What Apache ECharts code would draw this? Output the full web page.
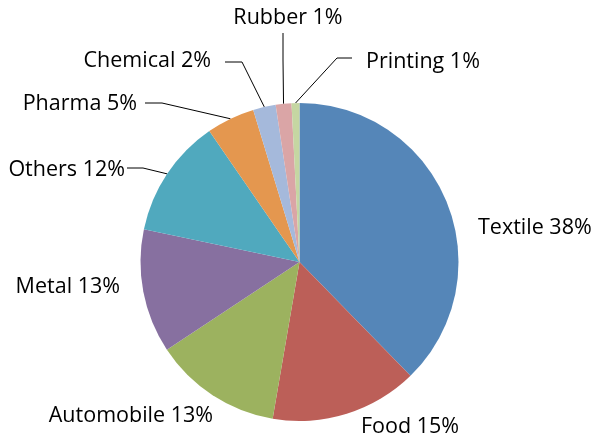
<!DOCTYPE html>
<html><head><meta charset="utf-8">
<script src="https://cdn.jsdelivr.net/npm/echarts@6/dist/echarts.min.js"></script>
<style>html,body{margin:0;padding:0;background:#fff}#c{width:593px;height:438px}</style>
</head><body><div id="c"></div>
<script>
const categories = ['Textile','Food','Automobile','Metal','Others','Pharma','Chemical','Rubber','Printing'];
const values = [37.7,15.0,13.0,12.6,12.1,4.9,2.3,1.6,0.8];
const percentLabels = [38,15,13,13,12,5,2,1,1];
const colors = ['#5586B8','#BC5F58','#9CB25F','#8770A0','#50A9BE','#E4974F','#A5B9DB','#DAA5A6','#C5D6A2'];
const showLine = [false,false,false,false,true,true,true,true,true];
// label layout: [x, y, align, elbowX, elbowY, endX, endY]
const labelPos = [
  [478,228,'left'],
  [361,427,'left'],
  [213,416,'right'],
  [120,287,'right'],
  [125,170,'right',143,168,127,168],
  [137,104,'right',162,103,145,103],
  [211,61,'right',242,62,225,62],
  [288,18,'center',283,60,283,33],
  [366,62,'left',337,58,352,58]
];
const FS = 21.5;
const chart = echarts.init(document.getElementById('c'));
chart.setOption({
  animation:false,
  series:[{
    type:'pie',
    center:[299.5,262],
    radius:159,
    startAngle:90,
    clockwise:true,
    itemStyle:{borderWidth:0},
    label:{show:true,formatter:p=>p.name+' '+percentLabels[p.dataIndex]+'%',color:'#000',fontSize:FS,fontFamily:'Open Sans',overflow:'none'},
    labelLine:{show:true,lineStyle:{color:'#000',width:1}},
    data:categories.map((c,i)=>({name:c,value:values[i],itemStyle:{color:colors[i]},labelLine:{show:showLine[i]}})),
    labelLayout:function(p){
      const L = labelPos[p.dataIndex];
      const r = {x:L[0],y:L[1],align:L[2],verticalAlign:'middle',fontSize:FS};
      if (L.length>3 && p.labelLinePoints) {
        r.labelLinePoints=[p.labelLinePoints[0],[L[3],L[4]],[L[5],L[6]]];
      }
      return r;
    }
  }]
});
</script></body></html>
